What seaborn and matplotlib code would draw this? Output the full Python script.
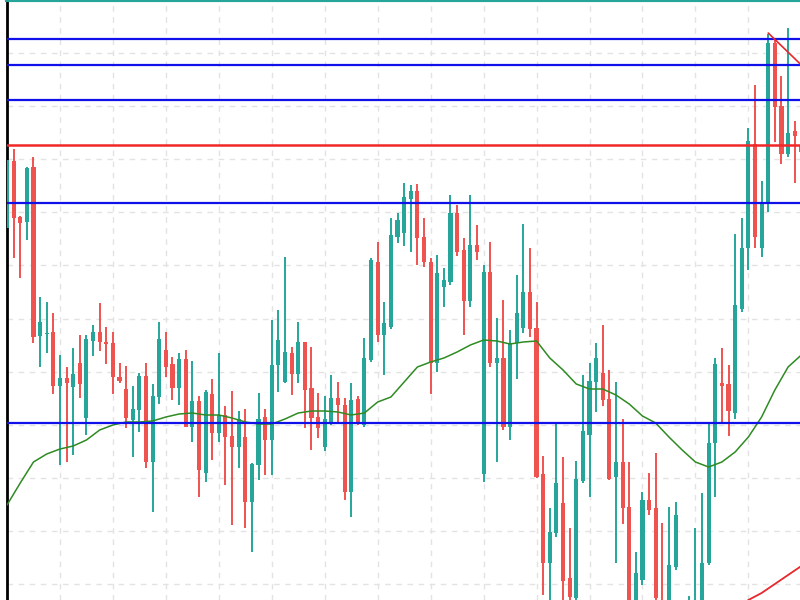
import numpy as np
import pandas as pd
import matplotlib
matplotlib.use("Agg")
import matplotlib.pyplot as plt
import seaborn as sns

# candle prices (arbitrary price units), bar 0 .. 120
opens = [372, 439, 383, 378, 433, 264, 266, 268, 214, 222, 213, 237, 182, 259, 268, 258, 257, 223, 211, 180,
         190, 224, 138, 203, 250, 236, 212, 241, 173, 199, 127, 206, 167, 185, 164, 153, 163, 98, 135, 183,
         160, 235, 218, 247, 226, 258, 212, 183, 153, 178, 202, 195, 108, 201, 175, 240, 338, 265, 273, 363,
         367, 401, 409, 363, 338, 237, 313, 318, 387, 350, 299, 355, 126, 328, 237, 242, 173, 257, 272, 308,
         272, 126, 37, 67, 97, 22, 2, 119, 165, 218, 227, 201, 123, 138, 93, -20, 20, 100, 92, -5,
         -15, 33, -10, -40, -25, -10, 37, 157, 217, 216, 187, 291, 352, 456, 352, 397, 557, 494, 446, 469,
         455]
highs = [442, 451, 384, 433, 443, 303, 298, 287, 245, 233, 252, 265, 265, 275, 297, 273, 268, 237, 234, 214,
         227, 237, 216, 278, 268, 243, 247, 250, 239, 204, 210, 221, 247, 194, 209, 189, 191, 137, 207, 191,
         280, 290, 343, 253, 278, 258, 253, 207, 204, 225, 218, 202, 217, 204, 262, 342, 358, 298, 382, 387,
         417, 415, 416, 382, 342, 345, 332, 405, 395, 362, 405, 375, 335, 358, 282, 300, 270, 325, 376, 352,
         298, 144, 92, 176, 143, 72, 139, 225, 237, 257, 275, 230, 218, 181, 138, 48, 108, 127, 147, 77,
         93, 98, -3, 4, 72, 107, 177, 242, 252, 235, 366, 382, 472, 515, 419, 566, 560, 524, 572, 479,
         472]
lows = [370, 342, 322, 360, 257, 233, 247, 206, 135, 138, 145, 202, 165, 244, 249, 236, 206, 217, 172, 143,
        168, 132, 88, 196, 223, 200, 195, 173, 158, 103, 118, 140, 158, 115, 75, 132, 72, 48, 120, 125,
        125, 208, 217, 205, 217, 172, 150, 162, 149, 175, 177, 100, 83, 175, 173, 238, 258, 225, 271, 357,
        354, 348, 335, 333, 206, 228, 293, 315, 344, 265, 293, 340, 118, 233, 138, 170, 160, 221, 267, 263,
        122, 5, -5, 63, -5, -10, -10, 117, 103, 188, 194, 120, 37, 76, -25, -25, 15, 85, -3, -30,
        -20, 30, -40, -45, -30, -15, 35, 103, 177, 164, 181, 288, 330, 352, 343, 388, 458, 436, 443, 417,
        440]
closes = [440, 382, 377, 432, 263, 278, 267, 214, 222, 217, 226, 216, 261, 268, 258, 256, 223, 219, 182, 191,
          224, 138, 204, 261, 233, 212, 241, 173, 199, 130, 208, 167, 185, 163, 153, 181, 98, 136, 181, 160,
          235, 260, 248, 226, 258, 210, 182, 172, 181, 202, 195, 108, 200, 178, 242, 340, 265, 277, 365, 380,
          403, 409, 362, 338, 237, 327, 320, 387, 348, 299, 355, 348, 328, 237, 242, 173, 257, 287, 308, 271,
          123, 37, 68, 117, 19, 3, 121, 169, 219, 242, 200, 121, 138, 92, -15, 27, 100, 90, 2, -25,
          35, 85, -30, -12, -2, 37, 157, 236, 214, 189, 295, 352, 459, 363, 398, 557, 493, 446, 467, 464,
          448]

# moving averages
ma_bar = [0, 2, 4, 6, 8, 10, 12, 14, 16, 18, 20, 22, 24, 26, 28, 30, 32, 34, 36, 38,
          40, 42, 44, 46, 48, 50, 52, 54, 56, 58, 60, 62, 64, 66, 68, 70, 72, 74, 76, 78,
          80, 82, 84, 86, 88, 90, 92, 94, 96, 98, 100, 102, 104, 106, 108, 110, 112, 114, 116, 118, 120]
ma_fast = [95, 117, 138, 146, 151, 154, 160, 170, 175, 178, 178, 179, 183, 186, 187, 185, 185, 182, 178, 176,
           176, 181, 187, 189, 189, 188, 185, 187, 198, 203, 218, 233, 238, 242, 248, 255, 260, 259, 256, 258,
           259, 242, 230, 216, 211, 211, 205, 196, 184, 177, 163, 150, 138, 133, 138, 148, 163, 183, 210, 233, 245]
ma_slow_bar = [110, 112, 114, 116, 118, 120]
ma_slow = [-10, 0, 7, 16, 25, 34]

# drawn levels and trend line
blue_levels = [561, 535, 500, 397, 177]
red_level = 455
trend_bar = [115, 120]
trend_price = [567, 535]

UP = "#26a69a"
DOWN = "#ef5350"

df = pd.DataFrame({"open": opens, "high": highs, "low": lows, "close": closes})
df["bar"] = np.arange(len(df))
df["color"] = np.where(df["close"] >= df["open"], UP, DOWN)
df["bottom"] = df[["open", "close"]].min(axis=1)
df["body"] = (df["close"] - df["open"]).abs().clip(lower=1.5)

sns.set_style("white")
fig = plt.figure(figsize=(8, 6), dpi=100)
ax = fig.add_axes([7 / 800, 0, 793 / 800, 1])

# grid
for gx in np.arange(8, 120, 8):
    ax.axvline(gx, color="#e3e3e3", lw=1, ls=(0, (4, 4)), zorder=0)
for gy in np.arange(16, 600, 53.1):
    ax.axhline(gy, color="#e3e3e3", lw=1, ls=(0, (4, 4)), zorder=0)

# candles
ax.vlines(df["bar"], df["low"], df["high"], colors=df["color"], lw=1.4, zorder=2)
ax.bar(df["bar"], df["body"], bottom=df["bottom"], width=0.62, color=df["color"],
       edgecolor="none", linewidth=0, zorder=3)

# moving averages
sns.lineplot(x=ma_bar, y=ma_fast, color="#2e8b22", lw=1.1, ax=ax, zorder=4)
sns.lineplot(x=ma_slow_bar, y=ma_slow, color="#e8262b", lw=1.3, ax=ax, zorder=4)

# levels
for lvl in blue_levels:
    ax.axhline(lvl, color="#1010e8", lw=1.6, zorder=5)
ax.axhline(red_level, color="#f02828", lw=1.8, zorder=5)
ax.plot(trend_bar, trend_price, color="#e8262b", lw=1.2, zorder=5)

ax.set_xlim(0, 119.8)
ax.set_ylim(0, 600)
ax.set_xticks([])
ax.set_yticks([])
ax.set_xlabel("")
ax.set_ylabel("")
for side in ["right", "bottom"]:
    ax.spines[side].set_visible(False)
ax.spines["left"].set_color("black")
ax.spines["left"].set_linewidth(2)
ax.spines["top"].set_color(UP)
ax.spines["top"].set_linewidth(3)

fig.savefig("out.png", dpi=100)
